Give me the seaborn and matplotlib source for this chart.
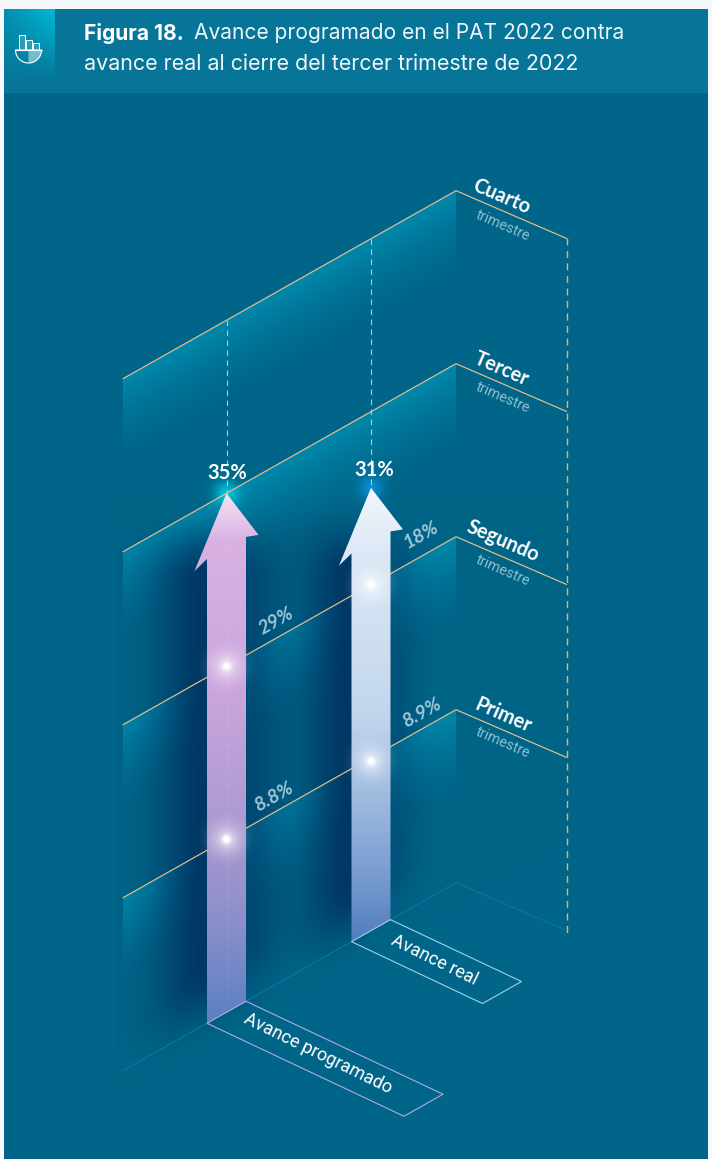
import numpy as np
import pandas as pd
import seaborn as sns
import matplotlib.pyplot as plt
from matplotlib.colors import LinearSegmentedColormap
from matplotlib.patches import Polygon, Rectangle, Wedge

# datos del PAT 2022
trimestres = ['Primer', 'Segundo', 'Tercer', 'Cuarto']
series = ['Avance programado', 'Avance real']
programado = [8.8, 29, 35]
real = [8.9, 18, 31]
etq_programado = ['8.8%', '29%', '35%']
etq_real = ['8.9%', '18%', '31%']
# altura de la punta de cada flecha, en trimestres
punta = [3.0, 2.56]

sns.set_theme(style='white')
plt.rcParams['font.family'] = ['Roboto', 'DejaVu Sans']

W, H = 712, 1159
FONDO = np.array([0, 101, 136]) / 255
TEAL = np.array([0, 138, 174]) / 255
SOMBRA = np.array([0, 54, 100]) / 255

# proyeccion isometrica: x en pixeles, nivel = trimestre
X0, Y0, M, PASO = 123, 1070.7, 0.5646, 173
XR, XF = 456, 566.5
M2 = 0.432


def iso(x, nivel=0):
    return Y0 - M * (x - X0) - PASO * nivel


def suave(t):
    t = np.clip(t, 0, 1)
    return t * t * (3 - 2 * t)


centros = [226.5, 371]
ancho = 19.5

yy, xx = np.mgrid[0:H, 0:W] + 0.5
img = np.ones((H, W, 3)) * FONDO


def mezcla(color, alfa):
    global img
    img = img * (1 - alfa[..., None]) + np.array(color) * alfa[..., None]


# paredes
for n in range(1, 5):
    d = yy - iso(xx, n)
    a = np.where((d > 0) & (xx >= X0) & (xx <= XR), (1 - np.clip(d / 88, 0, 1)) ** 1.6, 0)
    mezcla(TEAL, a * 0.95)

# sombras junto a las flechas
anchos_izq = [50, 46]
anchos_der = [36, 30]
fuerza_der = [0.6, 0.4]
for c, p, wi, wd, fd in zip(centros, punta, anchos_izq, anchos_der, fuerza_der):
    yt = iso(c, p)
    arriba = suave((yy - yt - 10) / 80)
    abajo = suave((iso(xx, 0) - yy + 25) / 85)
    izq = np.where(xx < c, np.exp(-((xx - (c - ancho)) / wi) ** 2) * 0.98, 0)
    der = np.where(xx > c, np.exp(-((xx - (c + ancho)) / wd) ** 2) * fd, 0)
    mezcla(SOMBRA, np.maximum(izq, der) * arriba * abajo * (xx > X0 - 8))

# brillo en las puntas
colores_brillo = [(0 / 255, 205 / 255, 230 / 255), (10 / 255, 145 / 255, 215 / 255)]
for c, p, col in zip(centros, punta, colores_brillo):
    r = np.hypot(xx - c, yy - iso(c, p))
    mezcla(col, np.exp(-(r / 12) ** 2) * 0.9)

# encabezado
mezcla((6 / 255, 117 / 255, 152 / 255), ((yy >= 9) & (yy < 93)).astype(float))
xn = np.clip((xx - 4) / 51, 0, 1)
yn = np.clip((yy - 9) / 72, 0, 1)
mezcla((0, 190 / 255, 218 / 255),
       np.where((xx >= 4) & (xx < 55) & (yy >= 9) & (yy < 93), (1 - yn) * (0.35 + 0.6 * xn), 0))

# margen blanco
mezcla((0.965, 0.98, 0.985), ((yy < 9) | (xx < 4) | (xx >= 708)).astype(float))

fig = plt.figure(figsize=(W / 100, H / 100), dpi=100)
ax = fig.add_axes([0, 0, 1, 1])
ax.imshow(img, extent=(0, W, H, 0), aspect='auto', interpolation='nearest', zorder=0)

# lineas de cada trimestre
filas = []
for n, tri in enumerate(trimestres, start=1):
    filas += [(tri, X0, iso(X0, n)), (tri, XR, iso(XR, n)), (tri, XF, iso(XR, n) + M2 * (XF - XR))]
lineas = pd.DataFrame(filas, columns=['trimestre', 'x', 'y'])
sns.lineplot(data=lineas, x='x', y='y', units='trimestre', estimator=None, sort=False,
             color='#e8c08c', lw=0.85, ax=ax, legend=False, zorder=2)

# suelo
suelo = '#0c7a9e'
sue_x = [[X0, centros[0] - ancho], [centros[0] + ancho, centros[1] - ancho], [centros[1] + ancho, XR]]
for xs in sue_x:
    ax.plot(xs, [iso(x) for x in xs], color=suelo, lw=0.7, zorder=1)
ax.plot([XR, XF], [iso(XR), iso(XR) + M2 * (XF - XR)], color=suelo, lw=0.7, zorder=1)

# verticales punteadas
ax.plot([XF, XF], [iso(XR, 4) + M2 * (XF - XR), 935], color='#f5b050', lw=1, ls=(0, (5, 4)), zorder=2)
for c, p in zip(centros, punta):
    ax.plot([c, c], [iso(c, 4), iso(c, p)], color='#a9ccd8', lw=0.8, ls=(0, (5, 4)), zorder=2)

# flechas
cmaps = [
    LinearSegmentedColormap.from_list('prog', [(0, '#f4e6f4'), (0.09, '#d9b2e2'), (0.4, '#c8a4dc'),
                                               (0.65, '#a898d0'), (0.82, '#8a8eca'), (1, '#5a80c2')]),
    LinearSegmentedColormap.from_list('real', [(0, '#f2f6fb'), (0.15, '#dbe8f5'), (0.48, '#c4d7ed'),
                                               (0.68, '#a0bbdf'), (0.86, '#779bd0'), (1, '#4f7dbc')]),
]
grad = np.linspace(0, 1, 256)[:, None]
for c, p, cm in zip(centros, punta, cmaps):
    xl, xr = c - ancho, c + ancho
    verts = [(c, iso(c, p)),
             (c + 32, iso(c + 32, p - 0.345)), (xr, iso(xr, p - 0.316)), (xr, iso(xr)),
             (xl, iso(xl)), (xl, iso(xl, p - 0.316)), (c - 32, iso(c - 32, p - 0.345))]
    pol = Polygon(verts, closed=True, transform=ax.transData, fc='none', ec='none')
    ax.add_patch(pol)
    im = ax.imshow(grad, extent=(c - 34, c + 34, iso(xl), iso(c, p)), aspect='auto', cmap=cm, zorder=3)
    im.set_clip_path(pol)

# rastro de lineas dentro de la flecha morada
ax.plot([centros[0]] * 2, [iso(centros[0], 3), 1000], color='white', alpha=0.1, lw=0.8,
        ls=(0, (5, 4)), zorder=4)

# destellos en cada trimestre
puntos = pd.DataFrame({
    'serie': [series[0]] * 2 + [series[1]] * 2,
    'x': [centros[0]] * 2 + [centros[1]] * 2,
    'nivel': [1, 2, 0.98, 2],
})
puntos['y'] = iso(puntos['x'], puntos['nivel'])
brillo = np.zeros((H, W, 4))
brillo[..., :3] = 1
alfa = np.zeros((H, W))
for _, f in puntos.iterrows():
    r = np.hypot(xx - f['x'], yy - f['y'])
    alfa = np.maximum(alfa, 0.6 * np.exp(-(r / 4.5) ** 2) + 0.55 * np.exp(-(r / 15) ** 2))
brillo[..., 3] = np.clip(alfa, 0, 1)
ax.imshow(brillo, extent=(0, W, H, 0), aspect='auto', interpolation='bilinear', zorder=5)
sns.scatterplot(data=puntos, x='x', y='y', color='white', s=2.5, linewidth=0, ax=ax, legend=False, zorder=6)

# bases de las series
base_col = ['#b3a9e2', '#9fd2e6']
largos = [197, 131]
for c, lg, col in zip(centros, largos, base_col):
    xl, xr = c - ancho, c + ancho
    M3 = 0.472
    v = [(xl, iso(xl)), (xr, iso(xr)), (xr + lg, iso(xr) + M3 * lg), (xl + lg, iso(xl) + M3 * lg)]
    ax.add_patch(Polygon(v, closed=True, fc='none', ec=col, lw=0.8, zorder=4))

# textos
LF = 'Lato'
ang_der = -23.4
ang_izq = 29.4
pos_tri = [(503, 715), (503, 541), (502, 369), (502, 197)]
pos_sub = [(503, 743), (503, 571), (503, 398), (503, 226)]
for tri, a, b in zip(trimestres, pos_tri, pos_sub):
    ax.text(*a, tri, family=LF, weight='bold', size=14.3, color='white', rotation=ang_der,
            ha='center', va='center', rotation_mode='anchor', zorder=7)
    ax.text(*b, 'trimestre', family='Roboto', weight='normal', size=10.3, color='#8fc0d2', rotation=ang_der,
            ha='center', va='center', rotation_mode='anchor', zorder=7)

pos_pct = [[(274, 797), (276, 621)], [(422, 713), (421, 535)]]
for etqs, pos in zip([etq_programado, etq_real], pos_pct):
    for e, q in zip(etqs[:2], pos):
        ax.text(*q, e, family=LF, style='italic', weight='bold', size=14, color='#9cc6d6', rotation=ang_izq,
                ha='center', va='center', rotation_mode='anchor', zorder=7)
ax.text(227, 473, etq_programado[2], family=LF, weight='bold', size=14.5, color='white',
        ha='center', va='center', zorder=7)
ax.text(374, 470, etq_real[2], family=LF, weight='bold', size=14.5, color='white',
        ha='center', va='center', zorder=7)

ax.text(318, 1054, series[0], family='Roboto', size=13, color='white', rotation=-26,
        ha='center', va='center', rotation_mode='anchor', zorder=7)
ax.text(434, 960, series[1], family='Roboto', size=13, color='white', rotation=-26,
        ha='center', va='center', rotation_mode='anchor', zorder=7)

# titulo
TF = 'Inter'
t1 = ax.text(84, 33, 'Figura 18.', family=TF, weight='bold', size=15.1, color='white', va='center', zorder=7)
fig.canvas.draw()
fin = ax.transData.inverted().transform(t1.get_window_extent().get_points())[1][0]
ax.text(fin + 10, 33, 'Avance programado en el PAT 2022 contra', family=TF, size=15.1,
        color='#eef6f9', va='center', zorder=7)
ax.text(84, 64, 'avance real al cierre del tercer trimestre de 2022', family=TF, size=15.45,
        color='#eef6f9', va='center', zorder=7)

# icono
for x0, y0 in [(19, 35), (26, 40), (33, 43)]:
    ax.add_patch(Rectangle((x0, y0), 5.5, 50 - y0, fc=(1, 1, 1, 0.15), ec='white', lw=0.7, zorder=7))
ax.add_patch(Wedge((28.5, 50), 13, 0, 180, fc='none', ec='white', lw=0.8, zorder=7))
ax.add_patch(Wedge((28.5, 50), 13, 0, 90, fc='white', alpha=0.45, ec='none', zorder=7))
ax.plot([15, 42], [50, 50], color='white', lw=0.8, zorder=7)

ax.set_xlim(0, W)
ax.set_ylim(H, 0)
ax.axis('off')
fig.savefig('out.png', dpi=100)
